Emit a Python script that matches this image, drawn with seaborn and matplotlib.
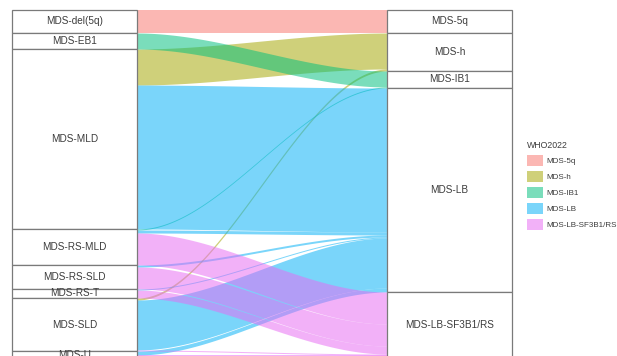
import numpy as np
import pandas as pd
import matplotlib
matplotlib.use("Agg")
import matplotlib.pyplot as plt
from matplotlib.patches import Rectangle, Patch
import seaborn as sns

# WHO 2016 categories (left axis) and WHO 2022 categories (right axis)
who2016 = ["MDS-del(5q)", "MDS-EB1", "MDS-MLD", "MDS-RS-MLD",
           "MDS-RS-SLD", "MDS-RS-T", "MDS-SLD", "MDS-U"]
who2022 = ["MDS-5q", "MDS-h", "MDS-IB1", "MDS-LB", "MDS-LB-SF3B1/RS"]

# reclassification flows: source, destination, number of patients
flow_from = ["MDS-del(5q)", "MDS-EB1", "MDS-MLD", "MDS-MLD",
             "MDS-RS-MLD", "MDS-RS-MLD", "MDS-RS-MLD",
             "MDS-RS-SLD", "MDS-RS-SLD",
             "MDS-RS-T", "MDS-RS-T",
             "MDS-SLD", "MDS-SLD", "MDS-SLD",
             "MDS-U", "MDS-U"]
flow_to = ["MDS-5q", "MDS-IB1", "MDS-h", "MDS-LB",
           "MDS-IB1", "MDS-LB", "MDS-LB-SF3B1/RS",
           "MDS-LB", "MDS-LB-SF3B1/RS",
           "MDS-LB", "MDS-LB-SF3B1/RS",
           "MDS-h", "MDS-LB", "MDS-LB-SF3B1/RS",
           "MDS-LB", "MDS-LB-SF3B1/RS"]
flow_n = [23, 16, 36, 144,
          1, 3, 32,
          2, 22,
          1, 8,
          2, 50, 1,
          4, 4]

palette = sns.color_palette(["#F8766D", "#A3A500", "#00BF7D", "#00B0F6", "#E76BF3"])
colors = dict(zip(who2022, palette))

sns.set_theme(style="white")
plt.rcParams["font.family"] = ["Liberation Sans", "DejaVu Sans"]

df = pd.DataFrame({"src": flow_from, "dst": flow_to, "n": flow_n})
df["si"] = df["src"].map(who2016.index)
df["di"] = df["dst"].map(who2022.index)

left_size = df.groupby("si")["n"].sum().reindex(range(len(who2016)))
right_size = df.groupby("di")["n"].sum().reindex(range(len(who2022)))
left_start = left_size.cumsum() - left_size
right_start = right_size.cumsum() - right_size

# lode positions inside each stratum (zigzag ordering)
df = df.sort_values(["si", "di"])
df["y0"] = df["si"].map(left_start) + df.groupby("si")["n"].cumsum() - df["n"]
df = df.sort_values(["di", "si"])
df["y1"] = df["di"].map(right_start) + df.groupby("di")["n"].cumsum() - df["n"]

total = left_size.sum()
w = 1 / 3

fig = plt.figure(figsize=(6.17, 3.56), dpi=100)
ax = fig.add_axes([12 / 617, 1 - (10 + total) / 356, 500 / 617, total / 356])
ax.set_xlim(1 - w / 2, 2 + w / 2)
ax.set_ylim(total, 0)
ax.axis("off")

# flows between the two axes, layered by destination category
t = np.linspace(0, 1, 200)
s = 3 * t ** 2 - 2 * t ** 3
xs = (1 + w / 2) + t * (1 - w)
for _, r in df.sort_values(["di", "si"]).iterrows():
    top = r.y0 + (r.y1 - r.y0) * s
    ax.fill_between(xs, top, top + r.n, color=colors[r.dst], alpha=0.52,
                    lw=0, zorder=2)

# strata boxes with labels
def draw_axis(center, names, starts, sizes):
    for i, name in enumerate(names):
        y, h = starts.iloc[i], sizes.iloc[i]
        ax.add_patch(Rectangle((center - w / 2, y), w, h, facecolor="white",
                               edgecolor="#7a7a7a", lw=0.9, zorder=3,
                               clip_on=False))
        ax.text(center, y + h / 2, name, ha="center", va="center",
                fontsize=7.2, color="#3c3c3c", zorder=4, clip_on=False)

draw_axis(1, who2016, left_start, left_size)
draw_axis(2, who2022, right_start, right_size)

handles = [Patch(facecolor=colors[c], alpha=0.52, lw=0) for c in who2022]
leg = fig.legend(handles, who2022, title="WHO2022", loc="upper left",
                 bbox_to_anchor=(524 / 617, 1 - 138 / 356), frameon=False,
                 fontsize=5.8, title_fontsize=6.3, handlelength=1.9,
                 handleheight=1.7, labelspacing=0.62, handletextpad=0.5,
                 borderaxespad=0, alignment="left")
for txt in leg.get_texts():
    txt.set_color("#3c3c3c")
leg.get_title().set_color("#3c3c3c")

fig.savefig("out.png", dpi=100)
